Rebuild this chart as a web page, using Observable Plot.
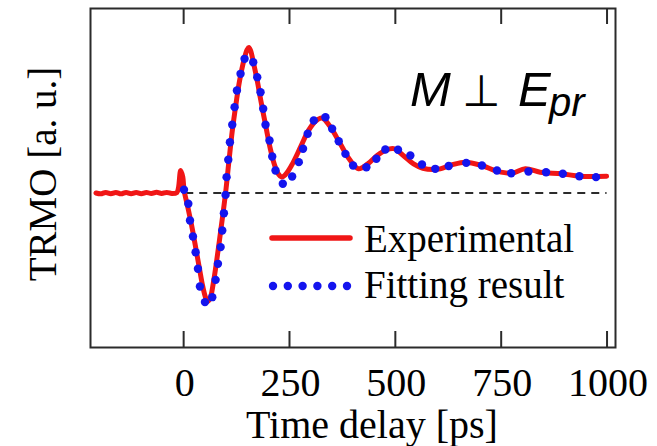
<!DOCTYPE html>
<html>
<head>
<meta charset="utf-8">
<script src="https://cdn.jsdelivr.net/npm/d3@7"></script>
<script src="https://cdn.jsdelivr.net/npm/@observablehq/plot@0.6"></script>
<style>
  html, body { margin: 0; padding: 0; background: #fff; }
  #wrap { position: relative; width: 657px; height: 446px; overflow: hidden; }
  #wrap > svg { position: absolute; left: 0; top: 0; }
  #overlay { position: absolute; left: 0; top: 0; pointer-events: none; }
</style>
</head>
<body>
<div id="wrap"></div>
<script>
// ---- data ----
const expTime = [-207,-196,-184,-172,-160,-148,-136,-124,-112,-100,-88,-76,-64,-52,-40,-28,-16,-12,-7,-2,1,10,20,30,38,45,52,57,63,70,77,88,99,107,115,124,132,143,150,154,158,166,174,182,194,205,215,224,231,240,255,276,295,312,327,345,370,392,413,435,457,478,496,518,543,565,590,606,635,665,704,740,775,807,842,893,936,999];
const expSignal = [0,-0.006,0.004,-0.005,0.004,-0.006,0.004,-0.005,0.004,-0.005,0.004,-0.004,0.005,-0.004,0.004,-0.004,0.003,0.04,0.155,0.11,0.02,-0.1,-0.24,-0.4,-0.53,-0.64,-0.72,-0.745,-0.72,-0.62,-0.487,-0.25,0,0.22,0.43,0.62,0.77,0.92,0.985,1.0,0.98,0.88,0.77,0.64,0.46,0.3,0.19,0.13,0.11,0.125,0.19,0.315,0.43,0.495,0.515,0.46,0.338,0.23,0.166,0.2,0.258,0.295,0.305,0.26,0.2,0.17,0.161,0.166,0.195,0.212,0.189,0.15,0.136,0.166,0.143,0.132,0.115,0.115];

const fitTime = [0.8,11,15,22,28.3,33.8,38.5,50.3,67.6,75.5,81,87.3,91.2,95.1,99,101.4,105.4,109.3,114.8,120.3,125.8,134.4,143.9,164.3,173.8,181.6,187.9,193.4,202.8,209.2,217,234.2,256.3,272,282,293,307.3,334.9,350.7,366.3,382.1,400.2,431.6,455.2,476.4,506.3,535.4,562.9,594.3,626,667.5,704.5,740,773.6,814.4,856,895.5,934.7,974];
const fitSignal = [0.022,-0.074,-0.189,-0.299,-0.407,-0.521,-0.643,-0.75,-0.716,-0.597,-0.487,-0.372,-0.258,-0.139,-0.013,0.109,0.228,0.349,0.469,0.59,0.704,0.819,0.922,0.899,0.796,0.693,0.579,0.469,0.361,0.251,0.155,0.063,0.113,0.212,0.304,0.407,0.498,0.521,0.441,0.356,0.269,0.189,0.177,0.235,0.299,0.297,0.258,0.196,0.166,0.185,0.207,0.189,0.155,0.136,0.148,0.143,0.132,0.115,0.109];

const xTicks = [0, 250, 500, 750, 1000];
const xLabel = "Time delay [ps]";
const yLabel = "TRMO [a. u.]";
const seriesNames = ["Experimental", "Fitting result"];

// ---- tables for Plot ----
const experimental = expTime.map((t, i) => ({t, v: expSignal[i]}));
const fitting = fitTime.map((t, i) => ({t, v: fitSignal[i]}));

const RED = "#f01616";
const BLUE = "#1414ee";
const INK = "#2b2b2b";
const SERIF = "'Liberation Serif', 'Times New Roman', serif";

const chart = Plot.plot({
  width: 657,
  height: 446,
  marginLeft: 90,
  marginRight: 42,
  marginTop: 8,
  marginBottom: 99,
  x: {domain: [-220, 1020], axis: null},
  y: {domain: [-1.062, 1.268], axis: null},
  style: {fontFamily: SERIF, background: "white", color: "black"},
  marks: [
    Plot.ruleY([0], {x1: 5, x2: 1000, stroke: INK, strokeWidth: 2, strokeDasharray: "8,6"}),
    Plot.tickX(xTicks, {x: d => d, insetTop: 323, stroke: INK, strokeWidth: 2}),
    Plot.tickX(xTicks, {x: d => d, insetBottom: 323, stroke: INK, strokeWidth: 2}),
    Plot.line(experimental, {x: "t", y: "v", stroke: RED, strokeWidth: 5, curve: "catmull-rom", strokeLinejoin: "round", strokeLinecap: "round"}),
    Plot.dot(fitting, {x: "t", y: "v", r: 4.2, fill: BLUE, stroke: null}),
    Plot.frame({stroke: INK, strokeWidth: 2}),
    Plot.text(xTicks, {x: d => d, text: d => String(d), frameAnchor: "bottom", dx: 1, dy: 48, lineAnchor: "bottom", fontSize: 40, fill: "black"}),
    Plot.text([xLabel], {text: d => d, frameAnchor: "bottom", dx: 19, dy: 90, lineAnchor: "bottom", fontSize: 40, fill: "black"}),
    Plot.text([yLabel], {text: d => d, frameAnchor: "left", textAnchor: "middle", dx: -35, dy: -4, rotate: -90, lineAnchor: "bottom", fontSize: 39, fill: "black"})
  ]
});

const wrap = document.getElementById("wrap");
wrap.appendChild(chart);

// ---- legend and annotation overlay ----
const ov = d3.select(wrap).append("svg")
  .attr("id", "overlay")
  .attr("width", 657).attr("height", 446);

// legend entry 1: solid red line
ov.append("line")
  .attr("x1", 272).attr("x2", 350).attr("y1", 238).attr("y2", 238)
  .attr("stroke", RED).attr("stroke-width", 5.5).attr("stroke-linecap", "round");
ov.append("text")
  .attr("x", 364).attr("y", 252)
  .attr("font-family", SERIF).attr("font-size", 39).attr("fill", "black")
  .text(seriesNames[0]);

// legend entry 2: blue dotted
ov.selectAll("circle.leg").data(d3.range(6)).join("circle")
  .attr("class", "leg")
  .attr("cx", i => 273 + i * 14.8).attr("cy", 286).attr("r", 4.2)
  .attr("fill", BLUE);
ov.append("text")
  .attr("x", 364).attr("y", 298)
  .attr("font-family", SERIF).attr("font-size", 39).attr("fill", "black")
  .text(seriesNames[1]);

// annotation M ⊥ E_pr
const ann = ov.append("text")
  .attr("y", 106)
  .attr("font-family", "'Liberation Sans', Arial, sans-serif")
  .attr("font-style", "italic")
  .attr("fill", "black");
ann.append("tspan").attr("x", 410).attr("font-size", 49).text("M");
ann.append("tspan").attr("x", 462).attr("y", 106).attr("font-size", 44)
  .attr("font-family", "'DejaVu Sans', sans-serif").attr("font-style", "oblique").text("⊥");
ann.append("tspan").attr("x", 518).attr("y", 106).attr("font-size", 49).text("E");
ann.append("tspan").attr("x", 549).attr("y", 116).attr("font-size", 40).text("pr");
</script>
</body>
</html>
